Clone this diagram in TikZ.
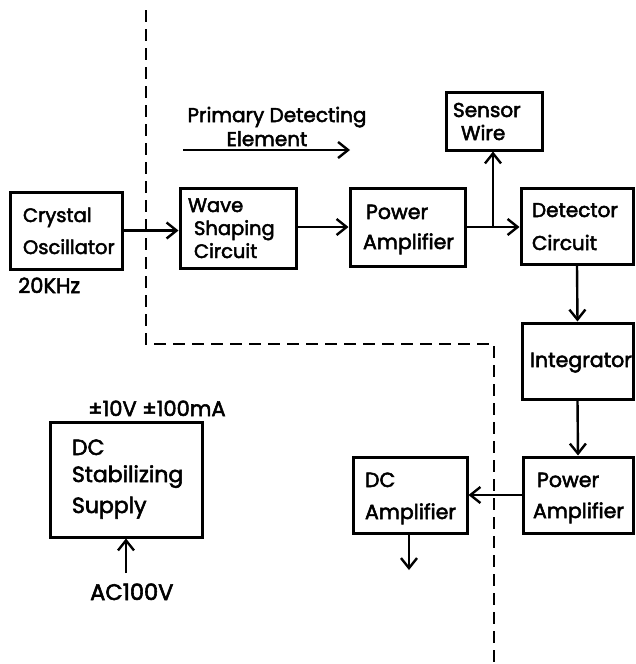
\documentclass[tikz,border=0pt]{standalone}
\usepackage{fontspec}
\setmainfont{Poppins}[FakeBold=2.5]
\usetikzlibrary{arrows.meta}
\tikzset{
  blk/.style={draw, line width=3pt, align=left, inner ysep=0pt},
  conn/.style={line width=2.4pt, -{Straight Barb[length=10pt,width=16pt]}},
  bound/.style={line width=2.8pt, dash pattern=on 12pt off 7pt},
  lbl/.style={inner sep=0pt, anchor=base west}
}
\newcommand{\fs}[2]{\fontsize{#1}{#2}\selectfont}
\begin{document}
\begin{tikzpicture}[x=1pt,y=-1pt]
\useasboundingbox (0,0) rectangle (635,664);
% boundary
\draw[bound] (146,10) -- (146,344) -- (494,344) -- (494,664);
% boxes
\node[blk, font=\fs{19.5}{32}, text width=86pt, inner xsep=13pt, text height=30pt, text depth=47pt] (osc) at (66,230.5) {Crystal\\Oscillator};
\node[blk, font=\fs{19.5}{23}, text width=100pt, inner xsep=8pt, text height=24pt, text depth=56pt] (wave) at (238,228) {Wave\\\hspace*{6pt}Shaping\\\hspace*{6pt}Circuit};
\node[blk, font=\fs{20.5}{30}, text width=89pt, inner xsep=13pt, text height=31pt, text depth=47pt] (pa1) at (407.5,227) {\hspace*{3pt}Power\\Amplifier};
\node[blk, font=\fs{20}{23}, text width=82pt, inner xsep=7pt, text height=25pt, text depth=33pt] (sensor) at (494,121) {Sensor\\\hspace*{8pt}Wire};
\node[blk, font=\fs{20}{33}, text width=90pt, inner xsep=11pt, text height=29pt, text depth=47pt] (det) at (577,226) {Detector\\Circuit};
\node[blk, font=\fs{20.5}{30}, text width=95pt, inner xsep=8pt, text height=44pt, text depth=32pt] (integ) at (577.5,361) {Integrator};
\node[blk, font=\fs{20.5}{31}, text width=90pt, inner xsep=10pt, text height=30pt, text depth=46pt] (pa2) at (578,495) {\hspace*{4pt}Power\\Amplifier};
\node[blk, font=\fs{20.5}{32}, text width=90pt, inner xsep=12pt, text height=30pt, text depth=46pt] (dcamp) at (410,495) {DC\\Amplifier};
\node[blk, font=\fs{22}{27}, text width=108pt, inner xsep=22pt, text height=33pt, text depth=82pt] (dcsup) at (126,479.5) {DC\\Stabilizing\\[4pt]Supply};
% free labels
\node[lbl, font=\fs{21}{22}] (freq) at (18,293) {20KHz};
\node[lbl, font=\fs{21}{22}] (rating) at (88,416) {±10V ±100mA};
\node[lbl, font=\fs{22.5}{22}] (ac) at (90,600) {AC100V};
\node[inner sep=0pt, align=center, font=\fs{20}{24}, anchor=base] (pde) at (277,146) {Primary Detecting\\\hspace*{-20pt}Element};
% coordinates
\coordinate (pdeA) at (183,150);
\coordinate (pdeB) at (350,150);
\coordinate (branch) at (493,226);
\coordinate (dcout) at (409,570);
\coordinate (acin) at (126,573);
% connectors
\draw[conn] (pdeA) -- (pdeB);
\draw[conn] (osc.east) -- (osc.east -| wave.west);
\draw[conn] (pa1.west -| wave.east) -- (pa1.west);
\draw[conn] (pa1.east) -- (pa1.east -| det.west);
\draw[conn] (branch) -- (branch |- sensor.south);
\draw[conn] (det.south) -- (integ.north);
\draw[conn] (integ.south) -- (pa2.north);
\draw[conn] (pa2.west) -- (dcamp.east);
\draw[conn] (dcamp.south -| dcout) -- (dcout);
\draw[conn] (acin) -- (acin |- dcsup.south);
\end{tikzpicture}
\end{document}
